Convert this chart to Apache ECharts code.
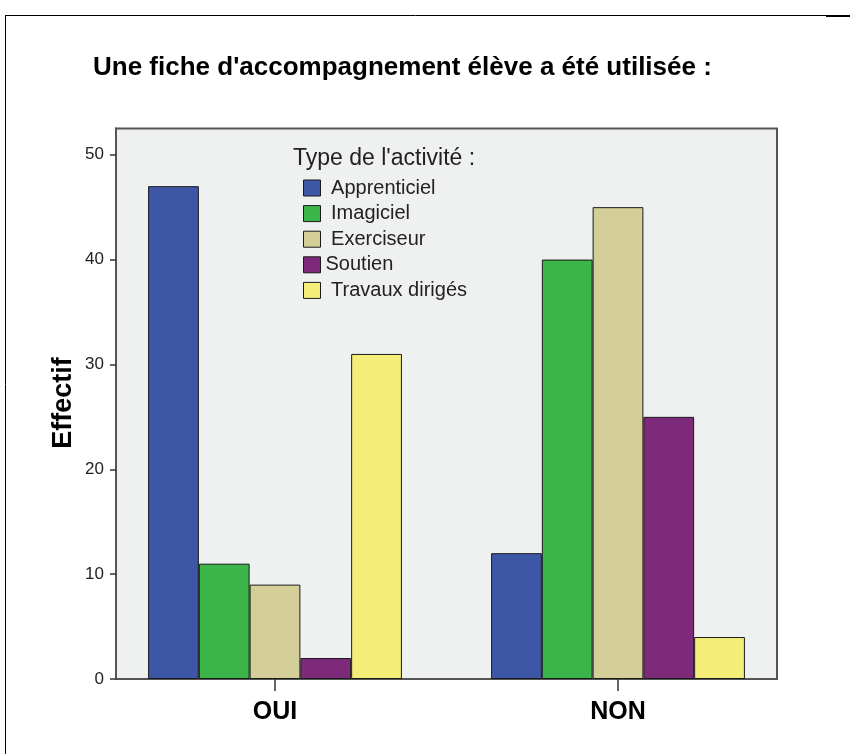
<!DOCTYPE html>
<html>
<head>
<meta charset="utf-8">
<script src="https://cdn.jsdelivr.net/npm/echarts@6/dist/echarts.min.js"></script>
<style>html,body{margin:0;padding:0;background:#fff;}#c{width:850px;height:754px;}</style>
</head>
<body>
<div id="c"></div>
<script>
const categories = ['OUI', 'NON'];
const seriesNames = ['Apprenticiel', 'Imagiciel', 'Exerciseur', 'Soutien', 'Travaux dirigés'];
const apprenticiel = [47, 12];
const imagiciel = [11, 40];
const exerciseur = [9, 45];
const soutien = [2, 25];
const travaux = [31, 4];
const yTicks = [0, 10, 20, 30, 40, 50];
const yAxisTitle = 'Effectif';
const colors = ['#3d56a6', '#3bb44a', '#d4cf98', '#7e2a7a', '#f4ee78'];
const values = [apprenticiel, imagiciel, exerciseur, soutien, travaux];

const FONT = "'Liberation Sans', Arial, sans-serif";
const chart = echarts.init(document.getElementById('c'), null, {renderer: 'canvas'});

const series = seriesNames.map((n, i) => ({
  name: n,
  type: 'bar',
  xAxisIndex: 1,
  yAxisIndex: 1,
  data: values[i],
  barGap: '0%',
  barCategoryGap: '26%',
  itemStyle: {color: colors[i], borderColor: '#1a1a1a', borderWidth: 1},
  emphasis: {disabled: true}
}));

chart.setOption({
  animation: false,
  backgroundColor: '#ffffff',
  title: [
    {text: "Une fiche d'accompagnement élève a été utilisée :", left: 88, top: 50, padding: 5,
     textStyle: {fontFamily: FONT, fontSize: 26, fontWeight: 'bold', color: '#000'}},
    {text: "Type de l'activité :", left: 288, top: 142, padding: 5,
     textStyle: {fontFamily: FONT, fontSize: 23, fontWeight: 'normal', color: '#222'}}
  ],
  legend: {
    orient: 'vertical', left: 298, top: 173, padding: 5,
    itemWidth: 17, itemHeight: 16, itemGap: 5.6,
    icon: 'rect',
    data: seriesNames,
    formatter: n => (n === 'Soutien' ? n : ' ' + n),
    textStyle: {fontFamily: FONT, fontSize: 20, lineHeight: 20, color: '#222'},
    itemStyle: {borderColor: '#1a1a1a', borderWidth: 1}
  },
  grid: [
    {left: 116, top: 128.5, width: 661, height: 550.5, show: true,
     backgroundColor: '#eff0f0', borderColor: '#555', borderWidth: 2},
    {left: 103.5, top: 128.5, width: 686, height: 550.5, show: false}
  ],
  xAxis: [
    {type: 'category', gridIndex: 0, data: categories, show: false},
    {type: 'category', gridIndex: 1, data: categories,
     axisLine: {show: false},
     axisTick: {show: true, alignWithLabel: true, length: 12, lineStyle: {color: '#333', width: 1.5}},
     axisLabel: {margin: 21, fontFamily: FONT, fontSize: 25, fontWeight: 'bold', color: '#000'}}
  ],
  yAxis: [
    {type: 'value', gridIndex: 0, min: 0, max: 52.5, interval: 10,
     axisLine: {show: true, lineStyle: {color: '#555', width: 2}},
     axisTick: {show: true, length: 6, lineStyle: {color: '#333', width: 1.5}, customValues: yTicks},
     axisLabel: {margin: 12, fontFamily: FONT, fontSize: 17, color: '#222', customValues: yTicks},
     splitLine: {show: false}},
    {type: 'value', gridIndex: 1, min: 0, max: 52.5, show: false}
  ],
  graphic: [
    {type: 'line', shape: {x1: 5, y1: 15.5, x2: 826, y2: 15.5}, style: {stroke: '#000', lineWidth: 1}},
    {type: 'line', shape: {x1: 826, y1: 16, x2: 850, y2: 16}, style: {stroke: '#000', lineWidth: 2}},
    {type: 'line', shape: {x1: 5.5, y1: 15, x2: 5.5, y2: 754}, style: {stroke: '#000', lineWidth: 1}},
    {type: 'text', x: 64, y: 403, rotation: Math.PI / 2,
     style: {text: yAxisTitle, fontFamily: FONT, fontSize: 27, fontWeight: 'bold', fill: '#000',
             textAlign: 'center', textVerticalAlign: 'middle'}}
  ],
  series: series
});
</script>
</body>
</html>
